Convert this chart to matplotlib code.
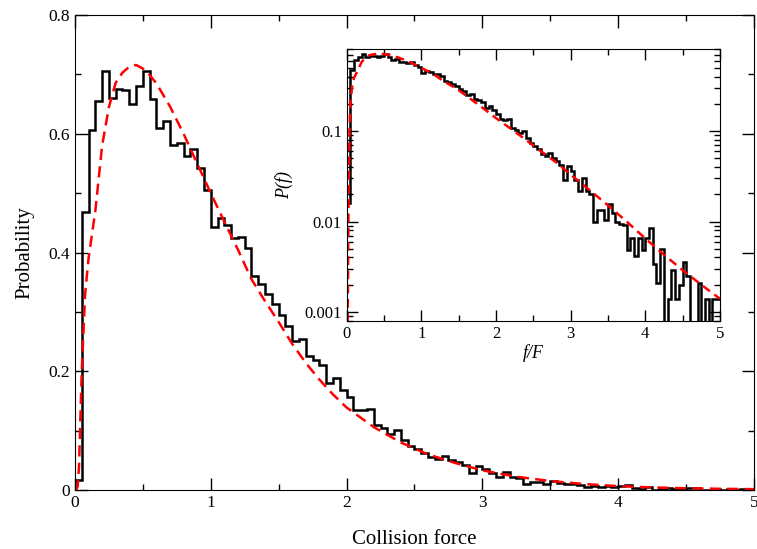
import numpy as np
import matplotlib
matplotlib.use("Agg")
import matplotlib.pyplot as plt
from matplotlib.ticker import MultipleLocator, FuncFormatter, LogLocator, NullFormatter

# histogram of collision forces, bin width 0.05 over [0, 5]
bin_width = 0.05
hist = [0.016, 0.469, 0.606, 0.656, 0.705, 0.661, 0.675, 0.674, 0.651, 0.681,
        0.705, 0.659, 0.610, 0.621, 0.581, 0.584, 0.563, 0.574, 0.542, 0.505,
        0.443, 0.458, 0.446, 0.425, 0.427, 0.407, 0.361, 0.347, 0.330, 0.313,
        0.295, 0.277, 0.251, 0.254, 0.226, 0.219, 0.211, 0.181, 0.189, 0.169,
        0.156, 0.135, 0.134, 0.137, 0.109, 0.104, 0.094, 0.101, 0.084, 0.074,
        0.069, 0.063, 0.056, 0.053, 0.057, 0.050, 0.047, 0.042, 0.029, 0.041,
        0.036, 0.029, 0.022, 0.030, 0.022, 0.020, 0.0099, 0.0135, 0.0135, 0.0105,
        0.0155, 0.0125, 0.0099, 0.0095, 0.0091, 0.0049, 0.0065, 0.0042, 0.0065, 0.0049,
        0.0065, 0.0085, 0.0034, 0.0021, 0.0050, 0.0, 0.0014, 0.0029, 0.0014, 0.0020,
        0.0036, 0.0025, 0.0, 0.0, 0.0021, 0.0, 0.0014, 0.0, 0.0014, 0.0014]

# fitted distribution (red dashed)
fit_x = [0.0, 0.01, 0.02, 0.03, 0.04, 0.05, 0.075, 0.1, 0.15, 0.2, 0.25, 0.3,
         0.35, 0.4, 0.45, 0.5, 0.55, 0.6, 0.7, 0.8, 0.9, 1.0, 1.1, 1.2, 1.3,
         1.4, 1.5, 1.6, 1.7, 1.8, 1.9, 2.0, 2.2, 2.4, 2.6, 2.8, 3.0, 3.25,
         3.5, 3.75, 4.0, 4.25, 4.5, 4.75, 5.0]
fit_y = [0.0, 0.0003, 0.006, 0.04, 0.12, 0.20, 0.33, 0.39, 0.47, 0.58, 0.645, 0.686,
         0.703, 0.713, 0.716, 0.710, 0.699, 0.685, 0.646, 0.600, 0.550, 0.500, 0.452, 0.405, 0.355,
         0.318, 0.283, 0.246, 0.214, 0.186, 0.161, 0.139, 0.106, 0.080, 0.060, 0.0455, 0.033, 0.0224,
         0.0151, 0.0100, 0.0065, 0.0043, 0.0029, 0.0020, 0.0014]

edges = np.arange(len(hist) + 1) * bin_width

plt.rcParams["font.family"] = "Liberation Serif"

fig = plt.figure(figsize=(7.57, 5.49), dpi=100)
ax = fig.add_axes([0.099, 0.1075, 0.897, 0.865])

ax.stairs(hist, edges, baseline=0, color="black", lw=1.8)
ax.plot(fit_x, fit_y, color="red", lw=1.8, dashes=(4.5, 2.5))

ax.set_xlim(0, 5)
ax.set_ylim(0, 0.8)
ax.xaxis.set_major_locator(MultipleLocator(1))
ax.xaxis.set_minor_locator(MultipleLocator(0.5))
ax.yaxis.set_major_locator(MultipleLocator(0.2))
ax.yaxis.set_minor_locator(MultipleLocator(0.1))
fmt = FuncFormatter(lambda v, p: "%g" % v)
ax.xaxis.set_major_formatter(fmt)
ax.yaxis.set_major_formatter(fmt)
ax.tick_params(which="both", direction="in", top=True, right=True, labelsize=12.5, width=1)
ax.tick_params(which="major", length=9)
ax.tick_params(which="minor", length=4.5)
ax.set_xlabel("Collision force", fontsize=15, labelpad=14)
ax.set_ylabel("Probability", fontsize=15, labelpad=10)

# inset: same data on log scale
ins = fig.add_axes([0.458, 0.4158, 0.493, 0.4943])
ins.stairs(hist, edges, baseline=None, color="black", lw=1.8)
ins.plot(fit_x, fit_y, color="red", lw=1.8, dashes=(3.5, 2.2))
ins.set_yscale("log")
ins.set_xlim(0, 5)
ins.set_ylim(0.0008, 0.8)
ins.xaxis.set_major_locator(MultipleLocator(1))
ins.xaxis.set_minor_locator(MultipleLocator(0.5))
ins.xaxis.set_major_formatter(fmt)
ins.yaxis.set_major_locator(LogLocator(base=10, numticks=10))
ins.yaxis.set_minor_locator(LogLocator(base=10, subs=np.arange(2, 10), numticks=20))
ins.yaxis.set_major_formatter(fmt)
ins.yaxis.set_minor_formatter(NullFormatter())
ins.tick_params(which="both", direction="in", top=True, right=True, labelsize=12, width=1)
ins.tick_params(which="major", length=8)
ins.tick_params(which="minor", length=4)
ins.set_xlabel("f/F", fontsize=13, style="italic", labelpad=2)
ins.set_ylabel("P(f)", fontsize=13, style="italic", labelpad=8)

fig.savefig("out.png", dpi=100)
